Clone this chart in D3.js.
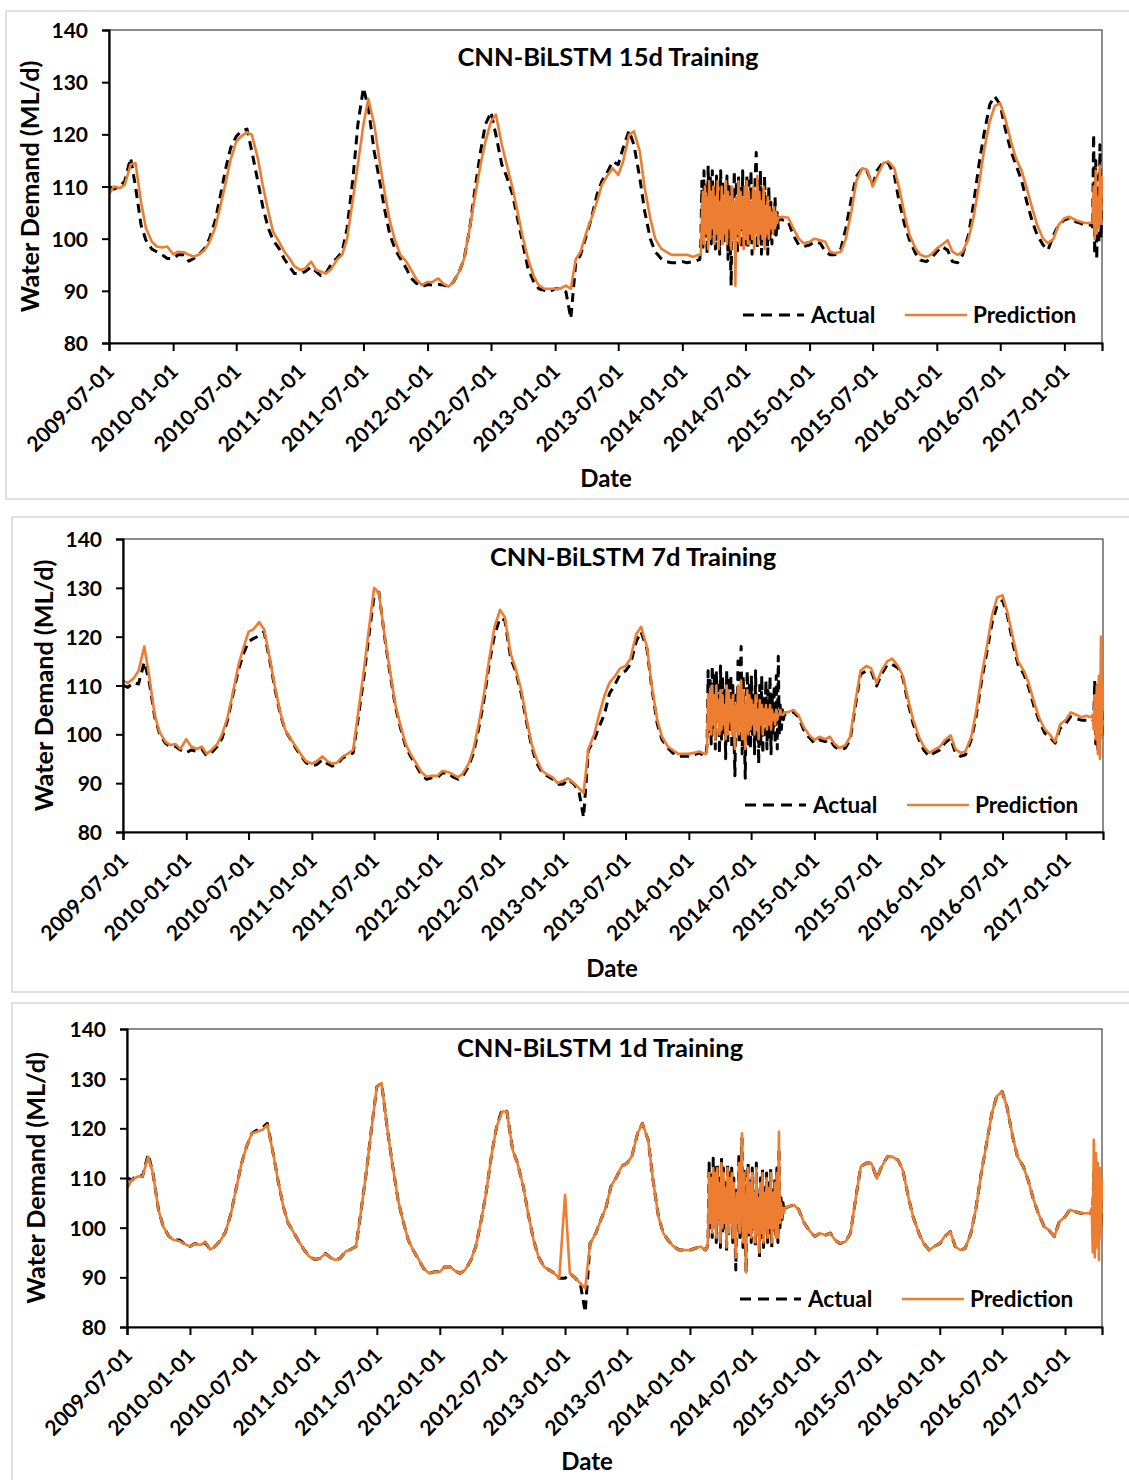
<!DOCTYPE html>
<html><head><meta charset="utf-8">
<script src="https://cdn.jsdelivr.net/npm/d3@7"></script>
<style>
body{margin:0;background:#fff;}
svg{display:block;font-family:Lato,"Open Sans",sans-serif;font-weight:700;}
</style></head><body>
<svg id="chart" width="1129" height="1480"></svg>
<script>
// ---------- DATA ----------
const xTickLabels = ["2009-07-01","2010-01-01","2010-07-01","2011-01-01","2011-07-01","2012-01-01","2012-07-01","2013-01-01","2013-07-01","2014-01-01","2014-07-01","2015-01-01","2015-07-01","2016-01-01","2016-07-01","2017-01-01"];
const yTickValues = [80, 90, 100, 110, 120, 130, 140];
const panelTitles = ["CNN-BiLSTM 15d Training", "CNN-BiLSTM 7d Training", "CNN-BiLSTM 1d Training"];
const legendLabels = ["Actual", "Prediction"];
const yAxisTitle = "Water Demand (ML/d)";
const xAxisTitle = "Date";

// Sampling segments of the series (dates at which values were read)
const semiMonthlyA = {from: "2009-07-01", to: "2014-02-01"};   // 1st & 15th of each month
const threeDayB = {from: "2014-02-20", count: 77, step: 3};     // noisy period 2014
const midOctC = "2014-10-15";
const semiMonthlyC = {from: "2014-11-01", to: "2017-03-01"};
const threeDayD = {from: "2017-03-20", count: 11, step: 3};

// Actual, as drawn in the 15d panel
const actual15 = [
 110,109.5,110,111,115.5,110,102.6,99.7,98,97.5,96.9,96.2,
 96.2,96.9,96.9,95.7,96.2,96.9,98.1,100,103.3,107.7,113.5,117.4,119.6,120.6,121,116.7,111,106.2,102,99.7,98.1,96.2,94.6,93.3,
 93.3,93.7,94.6,93.7,92.9,93.3,95.3,96.2,97.5,102,111.6,121.9,128.9,125.1,116.7,111.6,105.2,100.7,97.8,96.2,94.3,92.4,91.4,90.8,
 91.2,91.1,91.2,91.1,90.8,91.7,93.7,96.2,102,109,116.7,121.9,124.3,119.9,114.2,111.9,108.4,103.9,98.8,94.3,91.7,90.4,90.1,89.8,
 90.4,90.4,89.8,84.7,95.3,96.9,100.7,103.9,108.4,111,112.9,114.8,114.2,117.4,120.7,118,111.6,105.2,100,97.5,96.2,95.6,95.4,95.4,
 95.6,95.4,95.6,95.9,
 96,99,111,98,113,100,110,97,114,101,112,99,113,102,110,98,112,100,109,97,
 113,101,111,99,108,102,112,96,110,100,91,109,101,113,99,111,97,112,100,110,
 98,113,101,109,99,112,98,111,100,113,97,110,101,112,116.5,98,111,100,113,97,
 110,101,112,99,108,97,110,100,107,99,106,101,108,100,105,102,104,
 103.6,103.3,100.7,98.8,98.5,
 98.8,99.4,99.1,97.5,96.9,96.9,98.1,102,107.7,111.9,113.5,112.9,110.3,113.2,114.8,114.5,112.2,107.1,102.6,99.7,97.2,95.9,95.6,96.2,
 97.5,98.5,97.8,95.6,95.4,96.9,100.7,106.5,114.2,119.9,125.7,127.3,125.7,121.2,116.7,114.2,111,107.1,103.3,100.7,98.8,97.8,100.7,102.6,
 103.6,103.9,103.3,103,102.6,102.6,
 103,102,120,97,115,96,112,99,118,100,108
];
const pred15 = [
 108.5,110,109.7,110.3,114.2,114.5,107,102,99.4,98.5,98.3,98.5,
 97,97.5,97.4,96.9,96.6,96.9,97.8,99.3,102,105.8,110.8,115.2,118.6,119.6,120.4,119.9,115.4,110.3,105.2,101.3,99.4,97.6,96.2,94.7,
 94,94.3,95.6,94,93.7,93.3,94.3,95.9,96.9,100,107.7,114.2,121.9,126.8,121.9,115.4,108.4,103.3,99.4,96.9,95.6,94,92.1,91.1,
 91.7,91.7,92.4,91.4,90.8,91.7,93.7,96.2,102,107.7,114.2,118.6,122.5,123.8,118,114.2,109.7,105.2,100,96.2,92.7,91.1,90.4,90.4,
 90.4,90.4,91,90.4,96,97.5,101.3,103.9,107.1,110.3,112.2,113.5,112.2,114.8,119.9,120.6,116.7,109.7,103.9,100,98.1,97.5,96.9,96.9,
 96.9,96.9,96.5,96.9,
 96.9,97,104,109,99,110,101,108,98,111,100,109,102,110,99,108,101,111,98,107,
 100,110,99,108,101,111,99,109,102,108,98,110,100,107,91,108,101,111,99,109,
 102,108,98,110,100,111,99,109,101,107,100,110,98,109,101,112,99,109,101,107,
 100,110,98,106,101,108,100,106,102,105,101,106,102,105,103,104,104,
 104.2,104,102,100,99.1,
 99.4,100,99.7,99.4,97.5,97.2,97.5,100,105.2,111,113.5,113.2,110,112.2,114.5,114.8,113.5,109.7,104.5,100.7,98.1,96.9,96.5,96.9,
 98.1,98.8,99.7,97.5,96.9,97.5,100,103.9,110.3,116.7,122.5,125.4,126,123.1,118.6,115.4,112.9,109.7,105.8,102.6,100,99.1,100,102.6,
 103.9,104.2,103.6,103.3,103,103,
 103,103,110,100,113,101,108,102,114,103,112
];
// Actual, as drawn in the 7d and 1d panels
const actual = [
 110,109.6,110.6,110.3,114.8,110.9,103.6,100.2,98.2,97.5,97.5,96.8,
 96.2,96.8,96.5,97,95.6,96.2,97.5,99.2,102.9,107.6,113,116.3,119,119.6,120.2,121,115,109.6,104.2,100.9,98.9,97.2,95.5,94.2,
 93.6,93.8,94.8,94,93.5,93.8,95.2,95.6,96.2,102.9,111.6,119.7,128.4,129.1,119.7,113,105.6,101.5,97.5,95.5,93.5,91.8,90.8,91.1,
 91.1,92.1,92.1,91.3,90.8,91.5,93.5,96.2,101.5,106.9,115,120.3,123.8,123.4,115.6,113,108.3,102.9,97.5,94.2,92.1,91.5,90.8,89.8,
 89.8,90.8,89.8,88.5,83,96.8,98.9,101.5,104.2,108.3,110.3,112.3,113,114.3,119,121,117.6,109.6,102.2,98.9,97.2,96.2,95.5,95.5,
 95.5,95.8,96.2,95.5,
 96,98,113,100,111,98,114,101,112,97,113,103,110,96,114,99,112,100,109,95,
 113,98,111,101,112,97,110,100,91.5,108,101,115,98,111,118,96,112,100,91,108,
 113,98,110,97,112,100,108,96,113,99,107,94,110,98,112,96,108,100,111,97,
 109,99,112,96,108,100,110,98,112,97,116,100,106,101,105,103,104,
 104.2,104.6,103.6,100.9,99.5,
 98.2,98.9,98.5,98.9,97.5,96.8,97.2,98.9,106.2,112.3,113,113,109.9,112.3,114.3,114.3,113.6,111.6,106.2,102.2,98.9,96.8,95.5,96.2,
 96.8,98.2,99.2,96.2,95.5,95.8,98.9,103.6,110.9,116.3,123,126.4,127.4,124.4,118.3,114.3,112.3,109.6,105.6,102.9,100.2,99.5,98.2,101.2,
 102.2,103.6,103.2,102.9,102.9,102.9,
 103,102.5,111,98,110,97,109,99,108,100,106
];
const pred7 = [
 111,110.5,111.5,113,118,112,104,100.5,98.5,97.8,98,97,
 99,97.5,97,97.5,96,96.8,98,100,103.5,108,114,117.5,121,121.5,123,121.5,115.5,110,104.5,101,99,97.5,95.8,94.5,
 94,94.5,95.5,94.5,94,94.2,95.5,96,96.8,104,113,121,130,129,120,113.5,106,102,98,96,94,92.3,91.3,91.5,
 91.5,92.5,92.3,91.8,91.2,92,94,97,102.5,108,116,122,125.5,124,116.5,113.5,109,103.5,98,95,92.5,91.8,91.2,90,
 90.5,91,90,89,88,97,100,104,108,110.5,112,113.5,114,115.5,120.5,122,118,110,103,99.5,97.5,96.8,96,96,
 96,96.2,96.5,96,
 96,97,108,101,109,100,110,102,108,99,110,103,107,100,109,101,108,102,106,99,
 110,100,109,103,107,100,108,102,97,106,101,110,100,108,111,99,109,101,97,106,
 109,100,108,101,107,102,106,100,108,101,105,99,107,102,106,100,105,102,106,101,
 105,102,106,101,105,103,104,102,105,103,104,104,105,104,104,104,104.5,
 104.5,105,104,101.5,100,
 98.8,99.5,99,99.5,98,97.2,97.8,99.5,107,113,114,113.5,110.5,113,115,115.5,114,112,107,103,99.5,97.5,96.2,96.8,
 97.5,98.8,99.8,97,96.2,96.5,99.5,104.5,112,117.5,124.5,128,128.5,125,119.5,115,113,110.5,106.5,103.5,101,100,98.5,102,
 103,104.5,104,103.5,103.8,103.5,
 104,101,108,99,110,96,112,95,120,100,110
];
const pred1 = [
 107.9,109.6,110.3,110.3,114.3,110.9,103.6,100.2,98.2,97.5,97.3,96.8,
 96.2,96.8,96.5,97.2,95.6,96.2,97.5,99.2,102.9,107.6,113,116.3,119,119.3,119.7,120.7,115,109.6,104.2,100.9,98.9,97.2,95.5,94.2,
 93.6,93.8,94.8,94,93.5,93.8,95.2,95.6,96.2,102.9,111.6,119.7,128.4,129.1,119.7,113,105.6,101.5,97.5,95.5,93.5,91.8,90.8,91.1,
 91.1,92.1,92.1,91.3,90.8,91.5,93.5,96.2,101.5,106.9,115,120.3,123.4,123.4,115.6,113,108.3,102.9,97.5,94.2,92.1,91.5,90.8,89.8,
 106.6,90.8,89.8,88.8,87.8,96.8,98.9,101.5,104.2,108.3,110.3,112.3,113,114.3,119,121,117.6,109.6,102.2,98.9,97.2,96.2,95.5,95.5,
 95.5,95.8,96.2,95.5,
 96,98,111,101,110,99,112,100,111,98,112,102,109,97,113,100,111,101,108,96,
 112,99,110,101,111,98,109,100,94,107,101,113,99,110,119,97,111,100,91,107,
 112,99,109,98,111,100,107,97,112,99,106,95,109,99,111,97,107,100,110,98,
 108,100,111,97,107,100,109,98,111,98,119.3,101,105,102,104,103,104,
 104.2,104.6,103.6,100.9,99.5,
 98.2,98.9,98.5,98.9,97.5,96.8,97.2,98.9,106.2,112.3,113,113,109.9,112.3,114.3,114.3,113.6,111.6,106.2,102.2,98.9,96.8,95.5,96.2,
 96.8,98.2,99.2,96.2,95.5,95.8,98.9,103.6,110.9,116.3,123,126.4,127.4,124.4,118.3,114.3,112.3,109.6,105.6,102.9,100.2,99.5,98.2,101.2,
 102.2,103.6,103.2,102.9,102.9,102.9,
 104,95,117.7,94,115,96,113,93.5,112,98,110
];

// ---------- DATE GRID ----------
const parse = d3.utcParse("%Y-%m-%d");
const dates = [];
for (let m = parse(semiMonthlyA.from); m <= parse(semiMonthlyA.to); m = d3.utcMonth.offset(m, 1)) { dates.push(m, d3.utcDay.offset(m, 14)); }
for (let i = 0; i < threeDayB.count; i++) dates.push(d3.utcDay.offset(parse(threeDayB.from), i * threeDayB.step));
dates.push(parse(midOctC));
for (let m = parse(semiMonthlyC.from); m <= parse(semiMonthlyC.to); m = d3.utcMonth.offset(m, 1)) { dates.push(m, d3.utcDay.offset(m, 14)); }
for (let i = 0; i < threeDayD.count; i++) dates.push(d3.utcDay.offset(parse(threeDayD.from), i * threeDayD.step));

[["actual15",actual15],["pred15",pred15],["actual",actual],["pred7",pred7],["pred1",pred1]].forEach(([n,a]) => {
  if (a.length !== dates.length) throw new Error(n + " length " + a.length + " vs dates " + dates.length);
});

// ---------- LAYOUT ----------
const panels = [
  {title: panelTitles[0], act: actual15, pred: pred15, frame:{x:6,y:11,h:488},
   plot:{l:109,r:1102,t:30,b:343}, titleX:608, titleY:66, yTitleX:30, dateX:606, dateY:487, legX:743, legY:315},
  {title: panelTitles[1], act: actual, pred: pred7, frame:{x:12,y:517,h:475},
   plot:{l:123,r:1103,t:539,b:832}, titleX:633, titleY:566, yTitleX:44, dateX:612, dateY:977, legX:745, legY:805},
  {title: panelTitles[2], act: actual, pred: pred1, frame:{x:12,y:1003,h:500},
   plot:{l:127,r:1102,t:1029,b:1327}, titleX:600, titleY:1057, yTitleX:36, dateX:587, dateY:1470, legX:740, legY:1299}
];
const ORANGE = "#ED7D31";
const svg = d3.select("#chart");
const xDomain = [dates[0], dates[dates.length - 1]];
const xTickDates = xTickLabels.map(parse);

panels.forEach(p => {
  const g = svg.append("g");
  g.append("rect").attr("x", p.frame.x).attr("y", p.frame.y).attr("width", 1129 - p.frame.x + 10).attr("height", p.frame.h)
    .attr("fill", "#fff").attr("stroke", "#d9d9d9").attr("stroke-width", 1.6);

  const x = d3.scaleUtc().domain(xDomain).range([p.plot.l, p.plot.r]);
  const y = d3.scaleLinear().domain([80, 140]).range([p.plot.b, p.plot.t]);

  g.append("rect").attr("x", p.plot.l).attr("y", p.plot.t).attr("width", p.plot.r - p.plot.l).attr("height", p.plot.b - p.plot.t)
    .attr("fill", "none").attr("stroke", "#404040").attr("stroke-width", 1.2);

  const clipId = "clip" + p.plot.t;
  svg.append("clipPath").attr("id", clipId).append("rect")
    .attr("x", p.plot.l).attr("y", p.plot.t - 2).attr("width", p.plot.r - p.plot.l + 1).attr("height", p.plot.b - p.plot.t + 4);

  const line = d3.line().x((d, i) => x(dates[i])).y(d => y(d));
  g.append("path").datum(p.act).attr("d", line).attr("fill", "none").attr("stroke", "#000")
    .attr("stroke-width", 3).attr("stroke-dasharray", "9,6").attr("stroke-linejoin", "round").attr("clip-path", `url(#${clipId})`);
  g.append("path").datum(p.pred).attr("d", line).attr("fill", "none").attr("stroke", ORANGE)
    .attr("stroke-width", 2.6).attr("stroke-linejoin", "round").attr("clip-path", `url(#${clipId})`);

  const ya = g.append("g").attr("transform", `translate(${p.plot.l},0)`)
    .call(d3.axisLeft(y).tickValues(yTickValues).tickSize(7).tickPadding(14));
  const xa = g.append("g").attr("transform", `translate(0,${p.plot.b})`)
    .call(d3.axisBottom(x).tickValues(xTickDates).tickSize(8).tickFormat((d, i) => xTickLabels[i]));
  [ya, xa].forEach(a => {
    a.attr("font-family", null).attr("font-size", null);
    a.select(".domain").attr("stroke", "#000").attr("stroke-width", 2.2);
    a.selectAll(".tick line").attr("stroke", "#000").attr("stroke-width", 2);
    a.selectAll("text").attr("fill", "#000").style("font-size", "21px").style("font-weight", 700);
  });
  ya.selectAll("text").attr("dy", "0.36em");
  xa.selectAll("text").attr("y", 0).attr("dy", 0).attr("text-anchor", "end")
    .attr("transform", "translate(6,30) rotate(-45)");

  g.append("text").attr("x", p.titleX).attr("y", p.titleY).attr("text-anchor", "middle")
    .style("font-size", "25.5px").text(p.title);
  g.append("text").attr("transform", `translate(${p.yTitleX},${(p.plot.t + p.plot.b) / 2}) rotate(-90)`)
    .attr("text-anchor", "middle").attr("dy", "0.35em").style("font-size", "25.2px").text(yAxisTitle);
  g.append("text").attr("x", p.dateX).attr("y", p.dateY).attr("text-anchor", "middle")
    .style("font-size", "24px").text(xAxisTitle);

  const L = p.legX, LY = p.legY;
  g.append("line").attr("x1", L).attr("x2", L + 61).attr("y1", LY).attr("y2", LY)
    .attr("stroke", "#000").attr("stroke-width", 3).attr("stroke-dasharray", "11,7");
  g.append("text").attr("x", L + 68).attr("y", LY).attr("dy", "0.36em").style("font-size", "22.5px").text(legendLabels[0]);
  g.append("line").attr("x1", L + 162).attr("x2", L + 224).attr("y1", LY).attr("y2", LY)
    .attr("stroke", ORANGE).attr("stroke-width", 2.6);
  g.append("text").attr("x", L + 230).attr("y", LY).attr("dy", "0.36em").style("font-size", "22.5px").text(legendLabels[1]);
});
</script>
</body></html>
